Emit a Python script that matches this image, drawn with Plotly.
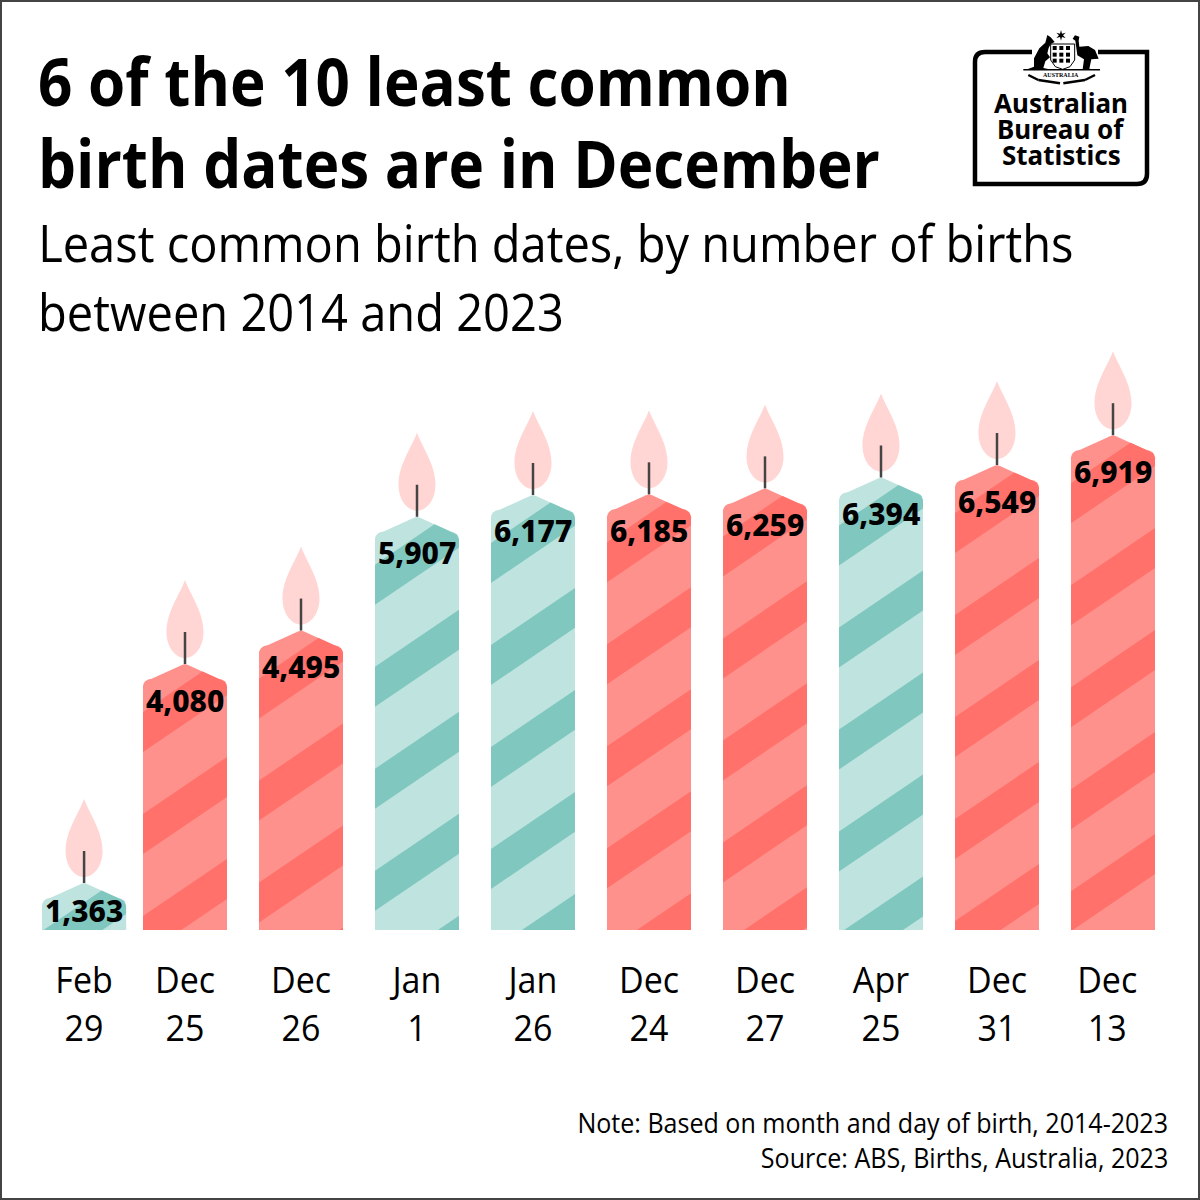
import plotly.graph_objects as go

# Dados
dates = ["Feb<br>29", "Dec<br>25", "Dec<br>26", "Jan<br>1", "Jan<br>26",
         "Dec<br>24", "Dec<br>27", "Apr<br>25", "Dec<br>31", "Dec<br>13"]
births = [1363, 4080, 4495, 5907, 6177, 6185, 6259, 6394, 6549, 6919]
is_december = [False, True, True, False, False, True, True, False, True, True]
slots = [0.13, 1, 2, 3, 4, 5, 6, 7, 8, 9]
tick_slots = [0.13, 1, 2, 3, 4, 5, 6, 7, 8, 8.95]

title_lines = ["6 of the 10 least common", "birth dates are in December"]
subtitle_lines = ["Least common birth dates, by number of births", "between 2014 and 2023"]
note_lines = ["Note: Based on month and day of birth, 2014-2023", "Source: ABS, Births, Australia, 2023"]
logo_lines = ["Australian", "Bureau of", "Statistics"]

RED_LIGHT, RED_DARK = "#FF918C", "#FF716A"
TEAL_LIGHT, TEAL_DARK = "#BFE3DF", "#80C8BF"
FLAME = "#FFD6D4"
WICK = "#444444"
NARROW = "Open Sans"  # estreitada no post_script
BOLD = "Noto Sans"

PLOT_H = 930
PX_PER_BIRTH = 0.0806
AXIS_MIN = 966


# pixels da imagem -> eixos
def X(px):
    return (px - 69) / 116


def Y(py):
    return AXIS_MIN + (PLOT_H - py) / PX_PER_BIRTH


def py_of(value):
    return PLOT_H - (value - AXIS_MIN) * PX_PER_BIRTH


def px_of(slot):
    return 69 + 116 * slot


def poly_path(points):
    return "M" + " L".join(f"{X(a):.4f},{Y(b):.1f}" for a, b in points) + " Z"


def clip(points, keep):
    # corta o poligono por um semi-plano
    out = []
    for i, p in enumerate(points):
        q = points[(i + 1) % len(points)]
        dp, dq = keep(p), keep(q)
        if dp >= 0:
            out.append(p)
        if dp * dq < 0:
            t = dp / (dp - dq)
            out.append((p[0] + t * (q[0] - p[0]), p[1] + t * (q[1] - p[1])))
    return out


shapes = []


def add_candle(slot, value, dark, light):
    cx = px_of(slot)
    top = py_of(value) - 15
    left, right = cx - 42, cx + 42
    outline = [(left, PLOT_H), (left, top + 23), (left + 2, top + 18), (left + 8, top + 15),
               (cx - 3, top + 1), (cx, top), (cx + 3, top + 1),
               (right - 8, top + 15), (right - 2, top + 18), (right, top + 23), (right, PLOT_H)]
    shapes.append(dict(type="path", path=poly_path(outline), fillcolor=light, line_width=0, layer="above"))
    # listras
    for k in range(0, 9):
        y_left = top + 48 + 102 * k
        if y_left - 57 > PLOT_H:
            break
        line = lambda x, y0=y_left: y0 - 0.68 * (x - left)
        band = clip(outline, lambda p: p[1] - line(p[0]))
        band = clip(band, lambda p: line(p[0]) + 40 - p[1])
        if band:
            shapes.append(dict(type="path", path=poly_path(band), fillcolor=dark, line_width=0, layer="above"))
    # chama
    a, b = top - 84, top - 6
    w = 18.5
    d = (f"M{X(cx):.4f},{Y(a):.1f} "
         f"C{X(cx + 6):.4f},{Y(a + 16):.1f} {X(cx + w):.4f},{Y(a + 32):.1f} {X(cx + w):.4f},{Y(a + 52):.1f} "
         f"C{X(cx + w):.4f},{Y(b - 10):.1f} {X(cx + 9):.4f},{Y(b):.1f} {X(cx):.4f},{Y(b):.1f} "
         f"C{X(cx - 9):.4f},{Y(b):.1f} {X(cx - w):.4f},{Y(b - 10):.1f} {X(cx - w):.4f},{Y(a + 52):.1f} "
         f"C{X(cx - w):.4f},{Y(a + 32):.1f} {X(cx - 6):.4f},{Y(a + 16):.1f} {X(cx):.4f},{Y(a):.1f} Z")
    shapes.append(dict(type="path", path=d, fillcolor=FLAME, line_width=0, layer="above"))
    shapes.append(dict(type="line", x0=X(cx), x1=X(cx), y0=Y(top - 32), y1=Y(top),
                       line=dict(color=WICK, width=2.5), layer="above"))


for slot, value, dec in zip(slots, births, is_december):
    add_candle(slot, value, RED_DARK if dec else TEAL_DARK, RED_LIGHT if dec else TEAL_LIGHT)


# logo (coordenadas do recorte 3x do brasao)
def zx(v):
    return 960 + v / 3


def zy(v):
    return 20 + v / 3


def crest(points, fill="black", width=0, color="black"):
    shapes.append(dict(type="path", path=poly_path([(zx(a), zy(b)) for a, b in points]),
                       fillcolor=fill, line=dict(width=width, color=color), layer="above"))


def logo_line(a, b, c, d, width=4.5):
    shapes.append(dict(type="line", x0=X(a), x1=X(c), y0=Y(b), y1=Y(d),
                       line=dict(color="black", width=width), layer="above"))


border = (f"M{X(1032):.4f},{Y(52):.1f} L{X(985):.4f},{Y(52):.1f} "
          f"Q{X(975):.4f},{Y(52):.1f} {X(975):.4f},{Y(62):.1f} L{X(975):.4f},{Y(184):.1f} "
          f"L{X(1137):.4f},{Y(184):.1f} Q{X(1147):.4f},{Y(184):.1f} {X(1147):.4f},{Y(174):.1f} "
          f"L{X(1147):.4f},{Y(52):.1f} L{X(1098):.4f},{Y(52):.1f}")
shapes.append(dict(type="path", path=border, line=dict(color="black", width=4.5), layer="above"))
# canguru
crest([(262, 45), (272, 52), (284, 66), (272, 72), (266, 84), (262, 100), (270, 112), (256, 124),
       (250, 144), (268, 148), (196, 150), (222, 140), (222, 115), (238, 85), (256, 68)])
# emu
crest([(345, 46), (358, 50), (356, 62), (358, 80), (385, 78), (405, 90), (416, 116), (394, 118),
       (388, 146), (398, 148), (368, 148), (372, 118), (352, 106), (346, 62), (338, 56)])
# escudo
crest([(272, 72), (344, 72), (344, 120), (330, 140), (308, 148), (286, 140), (272, 120)], fill="white", width=1)
for a in (284, 304, 324):
    for b in (84, 104, 122):
        crest([(a - 6, b - 6), (a + 6, b - 6), (a + 6, b + 6), (a - 6, b + 6)])
# estrela
crest([(303, 30), (306, 41), (317, 38), (309, 46), (317, 54), (306, 51), (303, 62), (300, 51),
       (289, 54), (297, 46), (289, 38), (300, 41)])
logo_line(zx(190), zy(149), zx(420), zy(149), 1.5)
# folhas
for a, b, c, d in [(205, 165, 235, 180), (235, 180, 300, 190), (405, 165, 375, 180), (375, 180, 310, 190)]:
    logo_line(zx(a), zy(b), zx(c), zy(d), 2.5)

# moldura
shapes.append(dict(type="rect", xref="paper", yref="paper", x0=1 / 1200, x1=1199 / 1200,
                   y0=(PLOT_H - 1199) / PLOT_H, y1=(PLOT_H - 1) / PLOT_H,
                   line=dict(color=WICK, width=2), layer="above"))


def text(s, px, py, size, family, anchor="left", color="black", weight=400):
    return dict(text=s, xref="paper", yref="paper", x=px / 1200, y=(PLOT_H - py) / PLOT_H,
                xanchor=anchor, yanchor="middle", showarrow=False,
                font=dict(size=size, family=family, color=color, weight=weight))


annotations = []
for line, py in zip(title_lines, [80, 162]):
    annotations.append(text(line, 36, py, 66, NARROW, weight=700))
for line, py in zip(subtitle_lines, [241, 310]):
    annotations.append(text(line, 36, py, 52, NARROW))
for line, py in zip(note_lines, [1122, 1157]):
    annotations.append(text(line, 1170, py, 28, NARROW, anchor="right"))
for line, py in zip(logo_lines, [103, 129, 155]):
    annotations.append(text(line, 1061, py, 26, BOLD, anchor="center", weight=700))
annotations.append(text("AUSTRALIA", 1061, 75, 6, "Liberation Serif", anchor="center", weight=700))

# rotulos dos valores
for slot, value in zip(slots, births):
    annotations.append(dict(text=f"{value:,}", x=slot, y=value, xref="x", yref="y",
                            yshift=-12 if value < 2000 else -21, yanchor="middle", showarrow=False,
                            font=dict(size=30, family=BOLD, color="black", weight=800)))

fig = go.Figure(go.Bar(
    x=slots, y=births, width=84 / 116,
    marker=dict(color=[RED_LIGHT if d else TEAL_LIGHT for d in is_december], line_width=0,
                cornerradius=8),
    hoverinfo="skip",
))
fig.update_layout(
    width=1200, height=1200,
    margin=dict(l=0, r=0, t=0, b=1200 - PLOT_H, pad=0),
    paper_bgcolor="white", plot_bgcolor="white",
    showlegend=False,
    shapes=shapes, annotations=annotations,
    xaxis=dict(range=[X(0), X(1200)], tickvals=tick_slots, ticktext=dates, showgrid=False, zeroline=False,
               showline=False, ticks="", ticklabelstandoff=25,
               tickfont=dict(size=37, family=NARROW, color="black")),
    yaxis=dict(range=[AXIS_MIN, Y(0)], visible=False),
)

# sem fonte semi-condensada instalada: estreita o texto a partir da ancora
page_fix = """
document.body.style.margin = '0';
function squeeze(t, s, where) {
    var b = t.getBBox();
    var c = b.x + b.width * where;
    var old = t.getAttribute('transform') || '';
    t.setAttribute('transform', old + ' translate(' + c + ',0) scale(' + s + ',1) translate(' + (-c) + ',0)');
}
var rules = [[%s, 0.912, 0], [%s, 0.905, 0], [%s, 0.895, 1]];
document.querySelectorAll('.annotation-text').forEach(function(t) {
    rules.forEach(function(r) {
        if (r[0].indexOf(t.textContent) >= 0) squeeze(t, r[1], r[2]);
    });
});
document.querySelectorAll('.xtick text').forEach(function(t) { squeeze(t, 0.92, 0.5); });
""" % (title_lines, subtitle_lines, note_lines)
fig.write_html("out.html", post_script=page_fix, config=dict(displayModeBar=False))
